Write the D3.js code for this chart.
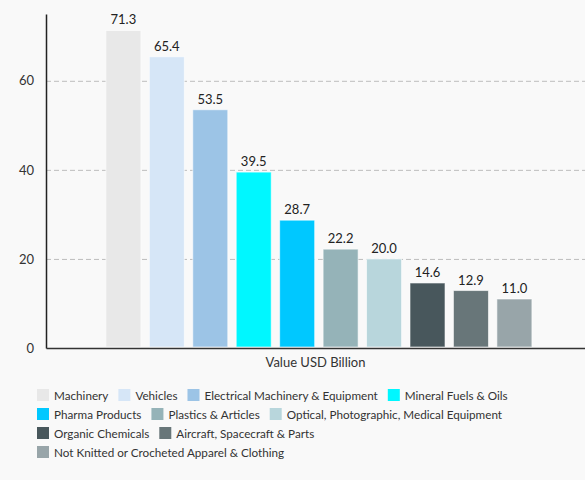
<!DOCTYPE html>
<html>
<head>
<meta charset="utf-8">
<script src="https://cdn.jsdelivr.net/npm/d3@7"></script>
<style>
  body { margin: 0; background: #f9f9f9; }
  svg { display: block; font-family: Lato, "Open Sans", sans-serif; }
</style>
</head>
<body>
<div id="wrapper"></div>
<script>
// Data
const category = "Value USD Billion";
const seriesNames = [
  "Machinery",
  "Vehicles",
  "Electrical Machinery & Equipment",
  "Mineral Fuels & Oils",
  "Pharma Products",
  "Plastics & Articles",
  "Optical, Photographic, Medical Equipment",
  "Organic Chemicals",
  "Aircraft, Spacecraft & Parts",
  "Not Knitted or Crocheted Apparel & Clothing"
];
const seriesValues = [71.3, 65.4, 53.5, 39.5, 28.7, 22.2, 20.0, 14.6, 12.9, 11.0];
const seriesColors = [
  "#e8e8e8", "#d6e6f7", "#9cc4e6", "#00f7ff", "#00c8ff",
  "#95b3b8", "#b8d6dc", "#48575c", "#687679", "#98a5a9"
];
const yTicks = [0, 20, 40, 60];

async function drawBars() {
  const dataset = seriesNames.map((name, i) => ({
    name: name,
    value: seriesValues[i],
    color: seriesColors[i]
  }));

  // Dimensions
  let dimensions = {
    width: 585,
    height: 480,
    margin: {
      top: 14,
      right: 0,
      bottom: 132,
      left: 46,
    },
  }
  dimensions.boundedWidth = dimensions.width
    - dimensions.margin.left
    - dimensions.margin.right;
  dimensions.boundedHeight = dimensions.height
    - dimensions.margin.top
    - dimensions.margin.bottom;

  // Canvas
  const wrapper = d3.select("#wrapper")
    .append("svg")
      .attr("width", dimensions.width)
      .attr("height", dimensions.height);

  wrapper.append("rect")
    .attr("width", dimensions.width)
    .attr("height", dimensions.height)
    .attr("fill", "#f9f9f9");

  const bounds = wrapper.append("g")
    .attr("transform", `translate(${dimensions.margin.left},${dimensions.margin.top})`);

  // Scales
  const x0 = d3.scaleBand()
    .domain([category])
    .range([0, dimensions.boundedWidth]);

  const x1 = d3.scaleBand()
    .domain(seriesNames)
    .range([0, x0.bandwidth()])
    .paddingInner(0.194)
    .paddingOuter(1.3)
    .align(0.53);

  const yScale = d3.scaleLinear()
    .domain([0, 75])
    .range([dimensions.boundedHeight, 0]);

  // Grid lines
  bounds.append("g")
    .selectAll("line")
    .data(yTicks.filter(d => d > 0))
    .join("line")
      .attr("x1", 0)
      .attr("x2", dimensions.boundedWidth)
      .attr("y1", d => yScale(d) + 0.5)
      .attr("y2", d => yScale(d) + 0.5)
      .attr("stroke", "#bdbdbd")
      .attr("stroke-dasharray", "5,3");

  // Bars
  const group = bounds.append("g")
    .attr("transform", `translate(${x0(category)},0)`);

  group.selectAll("rect")
    .data(dataset)
    .join("rect")
      .attr("x", d => x1(d.name))
      .attr("y", d => yScale(d.value))
      .attr("width", x1.bandwidth())
      .attr("height", d => yScale(0) - yScale(d.value) - 1)
      .attr("fill", d => d.color)
      .attr("stroke", "#ffffff")
      .attr("stroke-opacity", 0.6)
      .attr("stroke-width", 1);

  group.selectAll("text")
    .data(dataset)
    .join("text")
      .attr("x", d => x1(d.name) + x1.bandwidth() / 2)
      .attr("y", d => yScale(d.value) - 6)
      .attr("text-anchor", "middle")
      .attr("font-size", 13)
      .attr("fill", "#222")
      .text(d => d.value.toFixed(1));

  // Axes
  const yAxis = d3.axisLeft(yScale)
    .tickValues(yTicks)
    .tickSize(0)
    .tickPadding(12);
  const yAxisGroup = bounds.append("g").call(yAxis);
  yAxisGroup.select(".domain").attr("stroke", "#222").attr("stroke-width", 1.5);
  yAxisGroup.selectAll("text")
    .attr("font-size", 13)
    .attr("font-family", "Lato, sans-serif")
    .attr("fill", "#333");

  const xAxis = d3.axisBottom(x0).tickSize(0).tickPadding(10);
  const xAxisGroup = bounds.append("g")
    .attr("transform", `translate(0,${dimensions.boundedHeight})`)
    .call(xAxis);
  xAxisGroup.select(".domain").attr("stroke", "#333").attr("stroke-width", 1.5);
  xAxisGroup.selectAll("text")
    .attr("font-size", 13)
    .attr("font-family", "Lato, sans-serif")
    .attr("fill", "#333");

  // Legend
  const legend = wrapper.append("g")
    .attr("transform", "translate(37,389)");
  const maxRight = 555;
  let lx = 0, ly = 0;
  dataset.forEach(d => {
    const item = legend.append("g");
    item.append("rect")
      .attr("width", 12)
      .attr("height", 12)
      .attr("fill", d.color);
    const label = item.append("text")
      .attr("x", 17)
      .attr("y", 11)
      .attr("font-size", 11.7)
      .attr("fill", "#333")
      .text(d.name);
    const w = 17 + label.node().getComputedTextLength();
    if (lx > 0 && 37 + lx + w > maxRight) {
      lx = 0;
      ly += 19;
    }
    item.attr("transform", `translate(${lx},${ly})`);
    lx += w + 10;
  });
}
drawBars()
</script>
</body>
</html>
